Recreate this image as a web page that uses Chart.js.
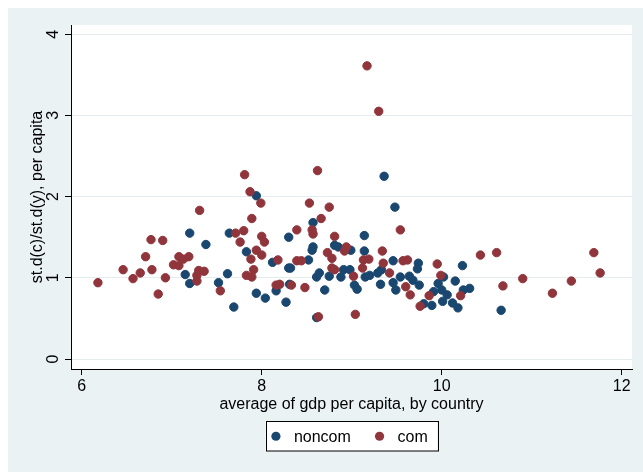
<!DOCTYPE html>
<html>
<head>
<meta charset="utf-8">
<script src="https://cdn.jsdelivr.net/npm/chart.js@4.4.0/dist/chart.umd.min.js"></script>
<style>
  body { margin: 0; background: #fff; }
  #wrap { width: 643px; height: 472px; }
</style>
</head>
<body>
<div id="wrap"><canvas id="c" width="643" height="472"></canvas></div>
<script>
// values
var noncomX = [7.94, 7.20, 7.38, 7.64, 7.83, 7.15, 7.20, 7.52, 7.62, 7.69,
  9.36, 9.48, 8.57, 9.14, 8.30, 8.57, 8.56, 8.81, 8.85, 8.99,
  9.14, 8.12, 8.52, 8.30, 8.32, 9.46, 9.74, 9.73, 8.64, 8.61,
  8.75, 8.88, 8.91, 8.98, 9.15, 9.20, 9.29, 9.33, 9.54, 9.64,
  9.68, 9.32, 9.46, 9.49, 9.75, 9.03, 9.06, 8.70, 8.31, 8.16,
  7.94, 8.04, 8.27, 8.61, 9.80, 9.89, 9.96, 10.00, 10.06, 10.01,
  10.02, 10.23, 10.15, 9.91, 10.24, 10.31, 10.12, 10.18, 10.66];
var noncomY = [2.01, 1.55, 1.41, 1.55, 1.32, 1.04, 0.93, 0.94, 1.05, 0.64,
  2.25, 1.87, 1.68, 1.52, 1.50, 1.38, 1.34, 1.40, 1.38, 1.34,
  1.33, 1.19, 1.22, 1.12, 1.12, 1.21, 1.18, 1.11, 1.06, 1.01,
  1.02, 1.01, 1.10, 1.10, 1.01, 1.03, 1.06, 1.10, 1.01, 1.02,
  0.97, 0.92, 0.94, 0.85, 0.91, 0.91, 0.86, 0.85, 0.92, 0.84,
  0.81, 0.75, 0.70, 0.51, 0.68, 0.66, 0.93, 0.85, 0.79, 0.71,
  1.01, 1.15, 0.96, 0.83, 0.85, 0.87, 0.69, 0.63, 0.60];

var comX = [7.81, 7.87, 7.99, 7.31, 7.89, 6.77, 6.90, 7.71, 7.80, 7.76,
  7.88, 6.71, 6.46, 6.65, 6.78, 6.57, 6.18, 6.93, 6.85, 7.08,
  7.02, 7.08, 7.13, 7.19, 7.28, 7.30, 7.36, 7.28, 7.54, 7.83,
  7.89, 7.91, 8.62, 8.53, 8.75, 8.66, 8.39, 8.56, 8.57, 9.54,
  8.00, 8.03, 8.81, 8.94, 8.92, 9.34, 8.73, 8.78, 9.13, 9.19,
  7.94, 8.00, 8.18, 8.39, 8.44, 9.57, 9.62, 9.95, 9.35, 9.12,
  8.78, 8.81, 9.02, 9.42, 8.48, 8.33, 8.16, 8.20, 8.63, 9.04,
  9.60, 9.65, 9.86, 9.76, 9.99, 10.43, 10.61, 11.69, 10.21, 10.68,
  10.90, 11.23, 11.44, 11.76, 9.17, 9.30];
var comY = [2.27, 2.06, 1.92, 1.83, 1.73, 1.47, 1.46, 1.55, 1.58, 1.44,
  1.23, 1.26, 1.10, 1.06, 1.10, 0.99, 0.94, 1.00, 0.80, 1.26,
  1.16, 1.15, 1.23, 1.26, 1.03, 1.09, 1.08, 0.96, 0.84, 1.03,
  1.01, 1.10, 2.32, 1.92, 1.87, 1.73, 1.59, 1.59, 1.54, 1.59,
  1.51, 1.44, 1.51, 1.38, 1.33, 1.33, 1.31, 1.24, 1.22, 1.23,
  1.34, 1.28, 1.22, 1.21, 1.21, 1.21, 1.22, 1.17, 1.18, 1.12,
  1.12, 1.10, 1.02, 1.06, 0.88, 0.91, 0.91, 0.92, 0.52, 0.55,
  0.89, 0.79, 0.78, 0.65, 1.03, 1.28, 1.31, 1.31, 0.78, 0.90,
  0.99, 0.81, 0.96, 1.06, 3.61, 3.05];

var xTicks = [6, 8, 10, 12];
var yTicks = [0, 1, 2, 3, 4];
var seriesNames = ["noncom", "com"];
var seriesColors = ["#1a476f", "#90353b"];

function pts(xs, ys) {
  var out = [];
  for (var i = 0; i < xs.length; i++) out.push({x: xs[i], y: ys[i]});
  return out;
}

var FONT = "'Liberation Sans', Arial, Helvetica, sans-serif";
Chart.defaults.font.family = FONT;
Chart.defaults.color = "#000";

// background, white plot region and the boxed legend
var stataLook = {
  id: "stataLook",
  beforeDraw: function (chart) {
    var ctx = chart.ctx, a = chart.chartArea;
    ctx.save();
    ctx.fillStyle = "#ffffff";
    ctx.fillRect(0, 0, chart.width, chart.height);
    ctx.fillStyle = "#eaf2f3";
    ctx.fillRect(8, 8, chart.width - 8, chart.height - 8);
    ctx.fillStyle = "#ffffff";
    ctx.fillRect(a.left, a.top, a.right - a.left, a.bottom - a.top);
    ctx.restore();
  },
  afterDraw: function (chart) {
    var ctx = chart.ctx, a = chart.chartArea;
    ctx.save();
    ctx.font = "16px " + FONT;
    var w1 = ctx.measureText(seriesNames[0]).width;
    var w2 = ctx.measureText(seriesNames[1]).width;
    var total = 10.3 + 18 + w1 + 29.7 + 17.3 + w2 + 9.3;
    var left = (a.left + a.right) / 2 - total / 2;
    var top = 421.5, h = 29.5, cy = top + h / 2;
    ctx.fillStyle = "#ffffff";
    ctx.fillRect(left, top, total, h);
    ctx.strokeStyle = "#000";
    ctx.lineWidth = 1;
    ctx.strokeRect(Math.round(left) + 0.5, top, Math.round(total), h);
    var cx = left + 10.3;
    ctx.textBaseline = "middle";
    for (var i = 0; i < 2; i++) {
      ctx.fillStyle = seriesColors[i];
      ctx.beginPath();
      ctx.arc(cx, cy, 4.6, 0, Math.PI * 2);
      ctx.fill();
      ctx.fillStyle = "#000";
      ctx.fillText(seriesNames[i], cx + 18, cy + 1);
      cx += 18 + (i === 0 ? w1 : w2) + 29.7 - 1;
    }
    ctx.restore();
  }
};

new Chart(document.getElementById("c"), {
  type: "scatter",
  data: {
    datasets: [
      {
        label: seriesNames[0],
        data: pts(noncomX, noncomY),
        backgroundColor: seriesColors[0],
        borderColor: seriesColors[0],
        pointRadius: 4.2,
        borderWidth: 1,
        order: 2
      },
      {
        label: seriesNames[1],
        data: pts(comX, comY),
        backgroundColor: seriesColors[1],
        borderColor: seriesColors[1],
        pointRadius: 4.2,
        borderWidth: 1,
        order: 1
      }
    ]
  },
  options: {
    responsive: false,
    animation: false,
    layout: { padding: { left: 0, right: 11, top: 25, bottom: 58 } },
    plugins: {
      legend: { display: false },
      tooltip: { enabled: false }
    },
    scales: {
      x: {
        type: "linear",
        min: 5.881,
        max: 12.114,
        afterBuildTicks: function (s) { s.ticks = xTicks.map(function (v) { return {value: v}; }); },
        afterFit: function (s) { s.height = 45; },
        border: { color: "#000", width: 1 },
        grid: { drawOnChartArea: false, tickLength: 6, tickColor: "#000" },
        ticks: { font: { size: 16 }, padding: 2, color: "#000", maxRotation: 0 },
        title: {
          display: true,
          text: "average of gdp per capita, by country",
          font: { size: 16 },
          color: "#000",
          padding: { top: 0, bottom: 0 }
        }
      },
      y: {
        type: "linear",
        min: -0.123,
        max: 4.113,
        afterBuildTicks: function (s) { s.ticks = yTicks.map(function (v) { return {value: v}; }); },
        afterFit: function (s) { s.width = 71; },
        border: { color: "#000", width: 1 },
        grid: { color: "#e4ecef", lineWidth: 1, tickLength: 6, tickColor: "#000" },
        ticks: { font: { size: 16 }, padding: 7, color: "#000", minRotation: 90, maxRotation: 90, crossAlign: "center" },
        title: {
          display: true,
          text: "st.d(c)/st.d(y), per capita",
          font: { size: 16 },
          color: "#000",
          padding: { top: 28, bottom: 0 }
        }
      }
    }
  },
  plugins: [stataLook]
});
</script>
</body>
</html>
